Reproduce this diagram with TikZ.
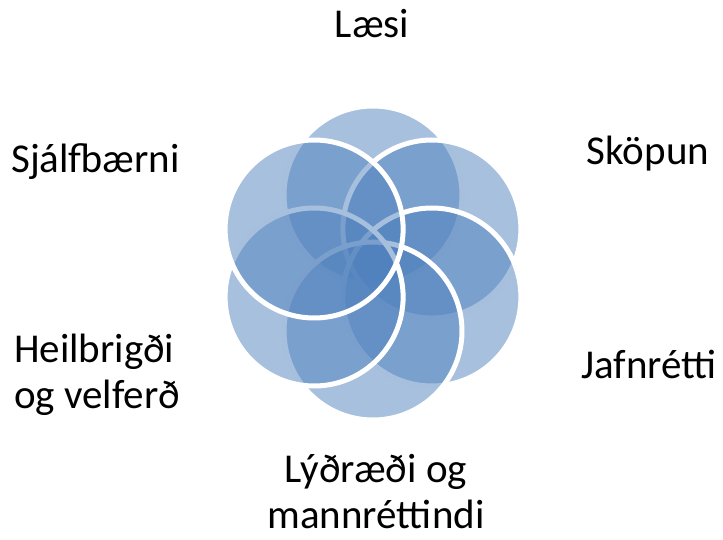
\documentclass[tikz,border=0pt]{standalone}
\usepackage{fontspec}
\setmainfont{Carlito}
\usepackage{tikz}
\usetikzlibrary{calc}

\definecolor{petalblue}{RGB}{79,129,189}

\tikzset{
petal/.style={circle, minimum size=178pt, inner sep=0pt,
  fill=petalblue, fill opacity=.5, draw=white, draw opacity=1, line width=5pt},
label text/.style={inner sep=0pt, font=\fontsize{41}{46}\selectfont}
}

\begin{document}
\begin{tikzpicture}[x=1pt, y=1pt]
\useasboundingbox (0,0) rectangle (723,539);

\coordinate (centre) at (373,276);

% petals, drawn clockwise from the top
\foreach \name/\angle in {laesi/90, skopun/30, jafnretti/-30, lydraedi/-90, heilbrigdi/-150, sjalfbaerni/150}
  \node[petal] (\name) at ($(centre)+(\angle:68)$) {};

% labels (base = last line)
\node[label text, anchor=base] (laesi label) at (372,501) {Læsi};
\node[label text, anchor=base] (skopun label) at (648,374) {Sköpun};
\node[label text, anchor=base] (jafnretti label) at (649,161) {Jafnrétti};
\node[label text, anchor=base, align=center] (lydraedi label) at (376,11) {Lýðræði og\\mannréttindi};
\node[label text, anchor=base west, align=left] (heilbrigdi label) at (14,131) {Heilbrigði\\og velferð};
\node[label text, anchor=base west] (sjalfbaerni label) at (11,366) {Sjálfbærni};

\end{tikzpicture}
\end{document}
